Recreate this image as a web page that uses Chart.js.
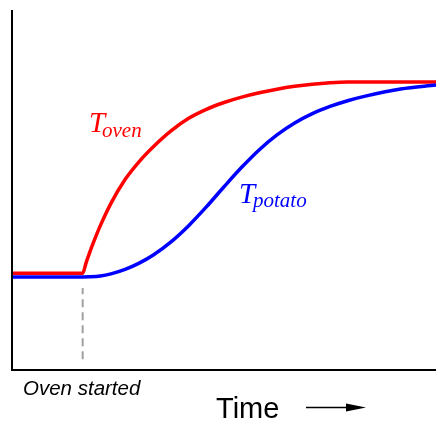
<!DOCTYPE html>
<html>
<head>
    <meta charset="UTF-8">
    <title>Oven and potato temperature</title>
    <script src="https://cdn.jsdelivr.net/npm/chart.js"></script>
    <style>
        body { margin: 0; background: #fff; }
    </style>
</head>
<body>
    <canvas id="heatChart" width="436" height="421"></canvas>

    <script>
        // time (arbitrary units), oven switched on at t = 20
        var ovenTime = [0, 20, 21, 22, 23, 25, 28, 32, 36, 40, 45, 50, 55, 60, 65, 70, 75, 80, 85, 90, 95, 100, 120];
        var ovenTemp = [26.9, 26.9, 29.9, 32.7, 35.3, 40.1, 46.3, 52.9, 57.9, 62.0, 66.4, 69.9, 72.4, 74.3, 75.8, 77.0, 78.0, 78.8, 79.4, 79.8, 80.0, 80.0, 80.0];

        var potatoTime = [0, 20, 22, 25, 28, 32, 36, 40, 45, 50, 55, 60, 65, 70, 75, 80, 85, 90, 95, 100, 110, 120];
        var potatoTemp = [25.83, 25.83, 25.87, 26.1, 26.7, 27.95, 29.7, 31.95, 35.6, 40.1, 45.3, 50.9, 56.3, 61.2, 65.3, 68.6, 71.2, 73.2, 74.8, 76.07, 78.07, 79.17];

        var startTime = [20, 20];
        var startMark = [3, 22.8];

        function toPoints(xs, ys) {
            var pts = [];
            for (var i = 0; i < xs.length; i++) {
                pts.push({ x: xs[i], y: ys[i] });
            }
            return pts;
        }

        // axis lines and the hand-written labels
        var decorations = {
            id: 'decorations',
            afterDraw: function (chart) {
                var ctx = chart.ctx;
                var area = chart.chartArea;
                ctx.save();

                ctx.strokeStyle = '#000';
                ctx.lineWidth = 2;
                ctx.beginPath();
                ctx.moveTo(area.left, area.top);
                ctx.lineTo(area.left, area.bottom);
                ctx.lineTo(area.right, area.bottom);
                ctx.stroke();

                ctx.textBaseline = 'alphabetic';
                ctx.textAlign = 'left';

                ctx.fillStyle = '#ff0000';
                ctx.font = 'italic 29px "Liberation Serif"';
                ctx.fillText('T', 89, 132);
                ctx.font = 'italic 21px "Liberation Serif"';
                ctx.fillText('oven', 102, 137);

                ctx.fillStyle = '#0000ff';
                ctx.font = 'italic 29px "Liberation Serif"';
                ctx.fillText('T', 239, 203);
                ctx.font = 'italic 21px "Liberation Serif"';
                ctx.fillText('potato', 253, 207);

                ctx.fillStyle = '#000';
                ctx.font = 'italic 20.5px "Liberation Sans"';
                ctx.fillText('Oven started', 23, 395);

                ctx.font = '29px "Liberation Sans"';
                ctx.fillText('Time', 216, 418);

                ctx.lineWidth = 1.5;
                ctx.beginPath();
                ctx.moveTo(306, 407.5);
                ctx.lineTo(350, 407.5);
                ctx.stroke();
                ctx.beginPath();
                ctx.moveTo(366, 407.5);
                ctx.lineTo(346, 403.5);
                ctx.lineTo(346, 411.5);
                ctx.closePath();
                ctx.fill();

                ctx.restore();
            }
        };

        var ctx = document.getElementById('heatChart').getContext('2d');
        var heatChart = new Chart(ctx, {
            type: 'line',
            data: {
                datasets: [{
                    label: 'start',
                    data: toPoints(startTime, startMark),
                    borderColor: '#a0a0a0',
                    borderWidth: 2,
                    borderDash: [8, 5],
                    pointRadius: 0
                }, {
                    label: 'T potato',
                    data: toPoints(potatoTime, potatoTemp),
                    borderColor: '#0000ff',
                    borderWidth: 3.5,
                    cubicInterpolationMode: 'monotone',
                    pointRadius: 0
                }, {
                    label: 'T oven',
                    data: toPoints(ovenTime, ovenTemp),
                    borderColor: '#ff0000',
                    borderWidth: 3.5,
                    cubicInterpolationMode: 'monotone',
                    pointRadius: 0
                }]
            },
            options: {
                responsive: false,
                animation: false,
                layout: { padding: { left: 12, top: 10, right: 0, bottom: 51 } },
                plugins: {
                    legend: { display: false },
                    tooltip: { enabled: false }
                },
                scales: {
                    x: { type: 'linear', min: 0, max: 120, display: false },
                    y: { min: 0, max: 100, display: false }
                }
            },
            plugins: [decorations]
        });
    </script>
</body>
</html>
